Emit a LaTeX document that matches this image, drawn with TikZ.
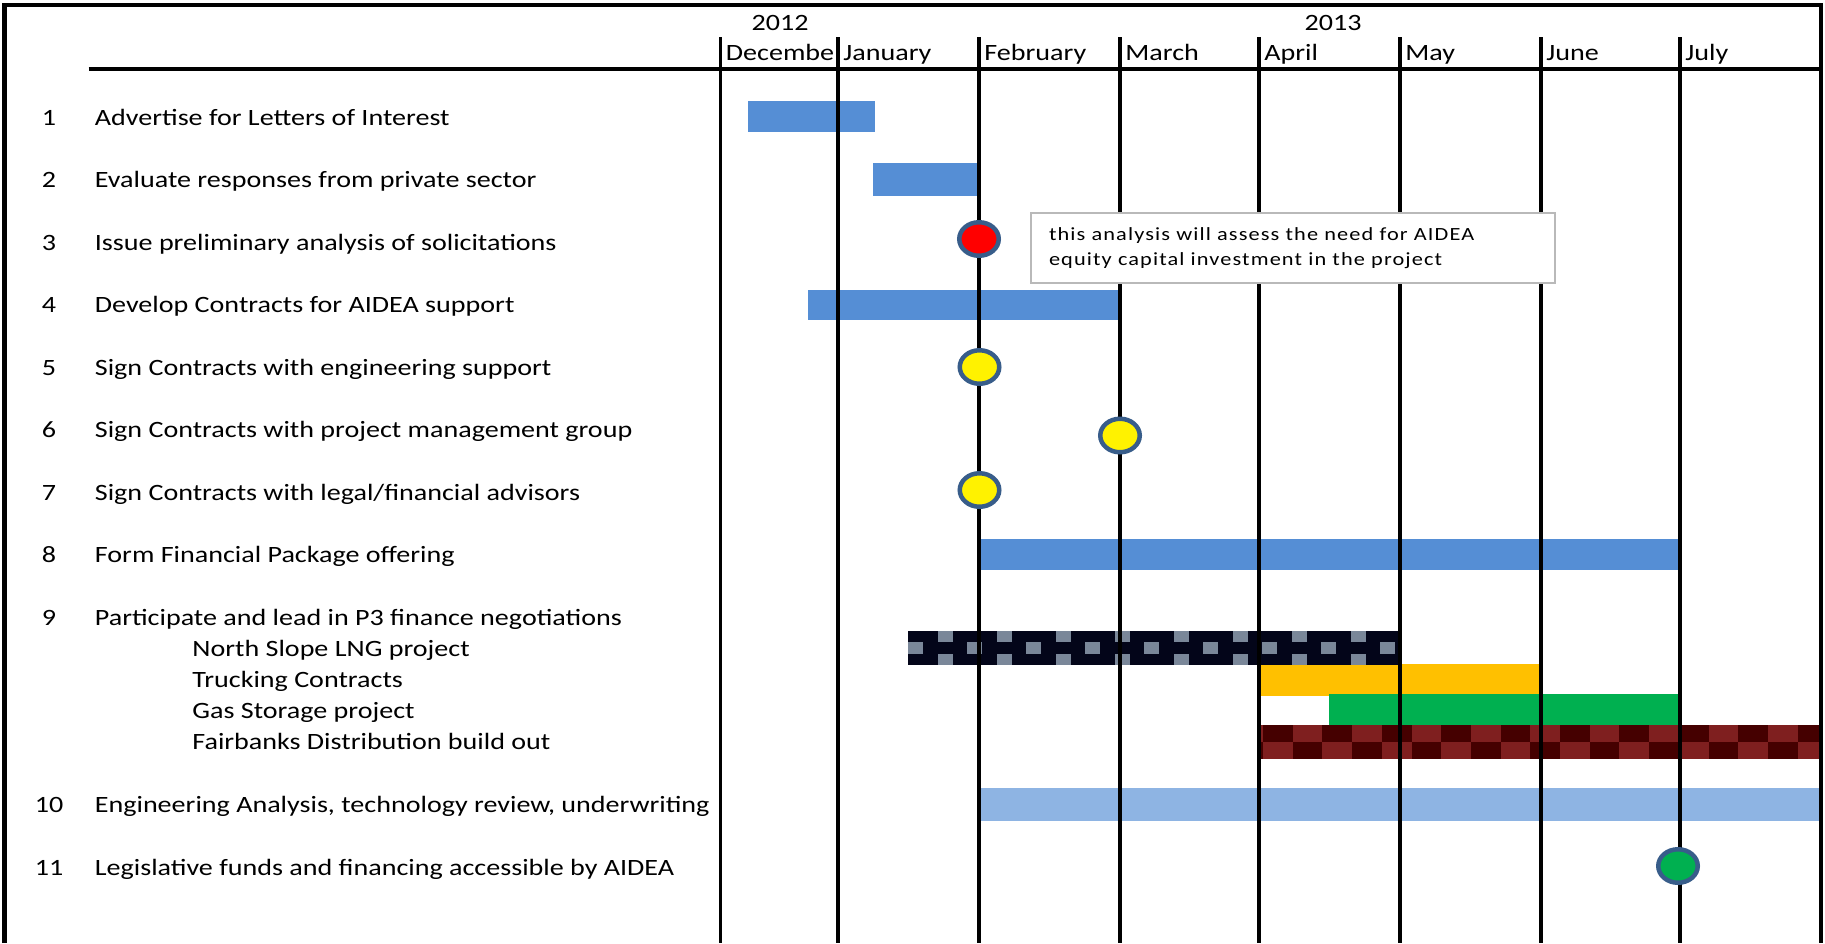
\documentclass[tikz,border=0pt]{standalone}
\usepackage{fontspec}
\setmainfont{Carlito}[FakeStretch=1.2]
\usetikzlibrary{shapes.geometric}

\definecolor{barblue}{RGB}{85,142,213}
\definecolor{lightbar}{RGB}{142,180,227}
\definecolor{ringblue}{RGB}{56,93,138}
\definecolor{truckorange}{RGB}{255,192,0}
\definecolor{storegreen}{RGB}{0,176,80}
\definecolor{navydark}{RGB}{3,5,25}
\definecolor{slategray}{RGB}{122,135,153}
\definecolor{maroondark}{RGB}{69,0,0}
\definecolor{maroonred}{RGB}{127,31,31}
\definecolor{notegray}{RGB}{185,185,185}

\newcommand{\taskfont}{\fontsize{11.7pt}{14pt}\selectfont}
\newcommand{\notefont}{\fontsize{9.3pt}{12.85pt}\selectfont\addfontfeature{LetterSpace=6}}

\tikzset{
  gridline/.style={line width=1.75pt},
  tasklabel/.style={anchor=base west, inner sep=0pt, font=\taskfont},
  numlabel/.style={anchor=base, inner sep=0pt, font=\taskfont},
  milestone/.style={ellipse, draw=ringblue, line width=2.25pt, minimum width=19.75pt, minimum height=16.75pt, inner sep=0pt},
}

\begin{document}
\begin{tikzpicture}[x=0.5pt, y=-0.5pt]
            \useasboundingbox (0,0) rectangle (1825,943);
            % task bars
            \fill[barblue] (748,101) rectangle (875,131.5);
            \fill[barblue] (873,163) rectangle (978,195.5);
            \fill[barblue] (808,290) rectangle (1118.5,320);
            \fill[barblue] (981,539) rectangle (1678,570);
            \fill[truckorange] (1259,663.5) rectangle (1540,695.5);
            \fill[storegreen] (1329,694) rectangle (1679,725);
            \fill[lightbar] (981,788) rectangle (1820,820.5);
            % north slope bar, small checks
            \begin{scope}
                \clip (908,631) rectangle (1400,665);
                \fill[navydark] (908,631) rectangle (1400,665);
                \foreach \k in {0,...,8} {
                    \fill[slategray] ({938+59*\k},631) rectangle ++(14.6,11.3);
                    \fill[slategray] ({908+59*\k},642.3) rectangle ++(14.6,11.4);
                    \fill[slategray] ({938+59*\k},653.7) rectangle ++(14.6,11.3);
                }
            \end{scope}
            % fairbanks bar, checkerboard
            \begin{scope}
                \clip (1259,725) rectangle (1820,759);
                \fill[maroonred] (1259,725) rectangle (1820,759);
                \foreach \k in {1,3,...,19} \fill[maroondark] ({1233.3+29.7*\k},725) rectangle ++(29.7,17);
                \foreach \k in {0,2,...,18} \fill[maroondark] ({1233.3+29.7*\k},742) rectangle ++(29.7,17);
            \end{scope}
            % frame, header and month lines
            \draw[line width=2.3pt] (4.5,943) -- (4.5,5) -- (1821,5) -- (1821,943);
            \draw[line width=1.85pt] (88.5,68.7) -- (1821,68.7);
            \foreach \x/\m in {720.5/Decembe, 838/January, 979/February, 1120/March, 1259/April, 1400/May, 1541/June, 1680/July} {
                \draw[gridline] (\x,37) -- (\x,943);
                \node[tasklabel] (\m) at (\x+5,60) {\m};
            }
            \node[numlabel] (y2012) at (780,30) {2012};
            \node[numlabel] (y2013) at (1333,30) {2013};
            % task list
            \foreach \n/\y/\t in {1/125/Advertise for Letters of Interest,
                                  2/187.5/Evaluate responses from private sector,
                                  3/250/Issue preliminary analysis of solicitations,
                                  4/312.5/Develop Contracts for AIDEA support,
                                  5/375/Sign Contracts with engineering support,
                                  6/437.5/Sign Contracts with project management group,
                                  7/500/{Sign Contracts with legal/financial advisors},
                                  8/562.5/Form Financial Package offering,
                                  9/625/Participate and lead in P3 finance negotiations,
                                  10/812.5/{Engineering Analysis, technology review, underwriting},
                                  11/875/Legislative funds and financing accessible by AIDEA} {
                \node[numlabel] (num\n) at (49,\y) {\n};
                \node[tasklabel] (task\n) at (94.5,\y) {\t};
            }
            \foreach \s/\y/\t in {1/656/North Slope LNG project,
                                  2/687/Trucking Contracts,
                                  3/718/Gas Storage project,
                                  4/749/Fairbanks Distribution build out} {
                \node[tasklabel] (sub\s) at (192,\y) {\t};
            }
            % milestones
            \node[milestone, fill=red] (m3) at (979,239) {};
            \node[milestone, fill=yellow] (m5) at (979.5,367) {};
            \node[milestone, fill=yellow] (m6) at (1120,435.5) {};
            \node[milestone, fill=yellow] (m7) at (979.5,490) {};
            \node[milestone, fill=storegreen] (m11) at (1678,866) {};
            % note on item 3
            \node[draw=notegray, line width=0.75pt, fill=white, align=left, text width=244pt, inner xsep=9pt, inner ysep=0pt, minimum height=35pt, font=\notefont] (note) at (1293,248) {this analysis will assess the need for AIDEA\\equity capital investment in the project};
        \end{tikzpicture}
\end{document}
